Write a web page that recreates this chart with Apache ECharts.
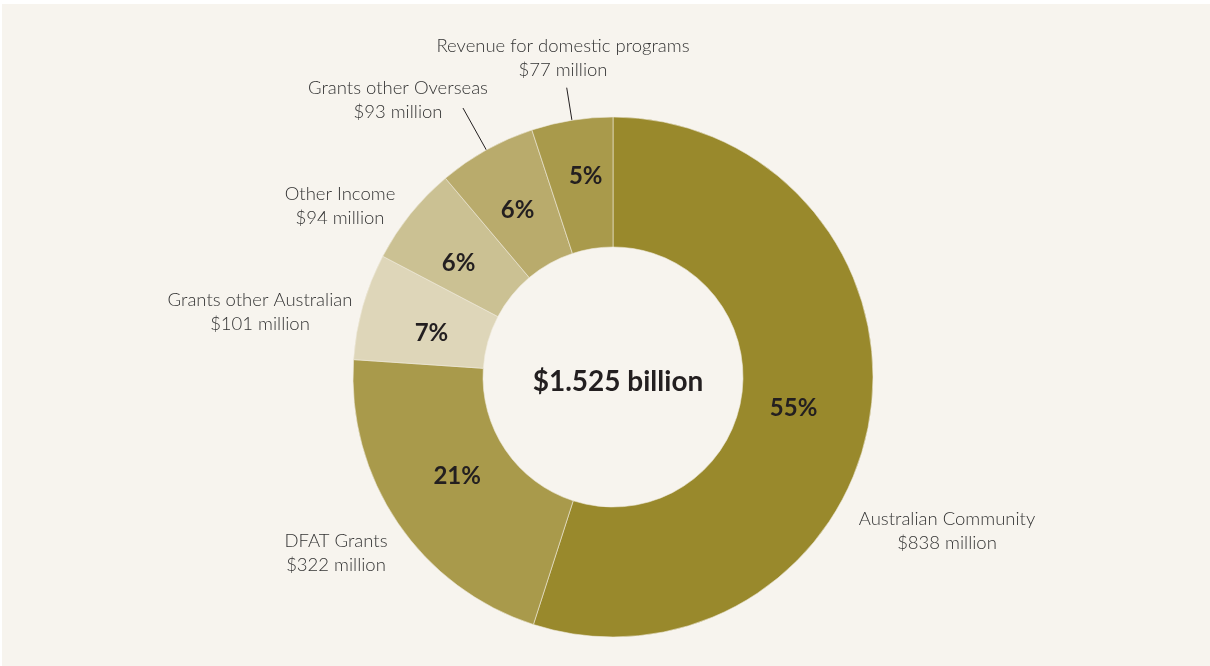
<!DOCTYPE html>
<html>
<head>
<meta charset="utf-8">
<script src="https://cdn.jsdelivr.net/npm/echarts@6/dist/echarts.min.js"></script>
<style>
  html, body { margin: 0; padding: 0; background: #ffffff; }
  #chart { position: absolute; left: 2px; top: 4px; width: 1208px; height: 662px; }
</style>
</head>
<body>
<div id="chart"></div>
<script>
const categories = ['Australian Community', 'DFAT Grants', 'Grants other Australian', 'Other Income', 'Grants other Overseas', 'Revenue for domestic programs'];
const values = [838, 322, 101, 94, 93, 77];
const sliceColors = ['#99892c', '#a99a4b', '#ded6b9', '#cbc193', '#b9ab6c', '#a99a4b'];
const showLeader = [false, false, false, false, true, true];
const leaderLength = [0, 0, 0, 0, 48, 33];

// label anchor positions (chart-local px), centred text blocks
const labelPos = [[945, 527], [334, 549], [258, 308], [338, 202], [396, 96], [561, 54]];
// nudges for the percentage labels
const pctNudge = [[-15, 1], [8, -12], [9, 10], [0, 10], [1, 6], [4, -5]];

const CX = 611, CY = 373;
const total = values.reduce((a, b) => a + b, 0);
const centerText = '$' + (total / 1000).toFixed(3) + ' billion';

const chart = echarts.init(document.getElementById('chart'), null, { renderer: 'canvas' });
const FONT = 'Lato, "Open Sans", sans-serif';

chart.setOption({
  backgroundColor: '#f7f4ee',
  animation: false,
  title: {
    text: centerText,
    left: CX, top: CY,
    textAlign: 'center', textVerticalAlign: 'middle',
    textStyle: { fontFamily: FONT, fontWeight: 'bold', fontSize: 28, color: '#231f20' }
  },
  series: [
    {
      type: 'pie',
      center: [CX, CY],
      radius: [130, 260],
      startAngle: 90,
      clockwise: true,
      percentPrecision: 0,
      silent: true,
      itemStyle: { borderColor: '#efe9da', borderWidth: 0.6 },
      label: {
        show: true, position: 'inside', formatter: '{d}%',
        fontFamily: FONT, fontWeight: 'bold', fontSize: 24, color: '#231f20'
      },
      labelLayout: p => ({ dx: pctNudge[p.dataIndex][0], dy: pctNudge[p.dataIndex][1] }),
      labelLine: { show: false },
      data: categories.map((c, i) => ({ name: c, value: values[i], itemStyle: { color: sliceColors[i] } }))
    },
    {
      type: 'pie',
      center: [CX, CY],
      radius: [130, 260],
      startAngle: 90,
      clockwise: true,
      silent: true,
      itemStyle: { color: 'rgba(0,0,0,0)', borderWidth: 0 },
      label: {
        show: true, position: 'outside',
        formatter: p => p.name + '\n$' + p.value + ' million',
        fontFamily: FONT, fontWeight: 300, fontSize: 18.5, lineHeight: 24,
        color: '#333333', align: 'center'
      },
      labelLine: { show: false, lineStyle: { color: '#231f20', width: 1 } },
      labelLayout: p => {
        const i = p.dataIndex;
        const out = { x: labelPos[i][0], y: labelPos[i][1], align: 'center', verticalAlign: 'middle' };
        if (showLeader[i] && p.labelLinePoints) {
          const p0 = p.labelLinePoints[0];
          const dx = p0[0] - CX, dy = p0[1] - CY;
          const d = Math.sqrt(dx * dx + dy * dy);
          const p1 = [p0[0] + dx / d * leaderLength[i], p0[1] + dy / d * leaderLength[i]];
          out.labelLinePoints = [p0, p1];
        }
        return out;
      },
      data: categories.map((c, i) => ({
        name: c, value: values[i],
        labelLine: { show: showLeader[i], length: leaderLength[i], length2: 0 }
      }))
    }
  ]
});
</script>
</body>
</html>
